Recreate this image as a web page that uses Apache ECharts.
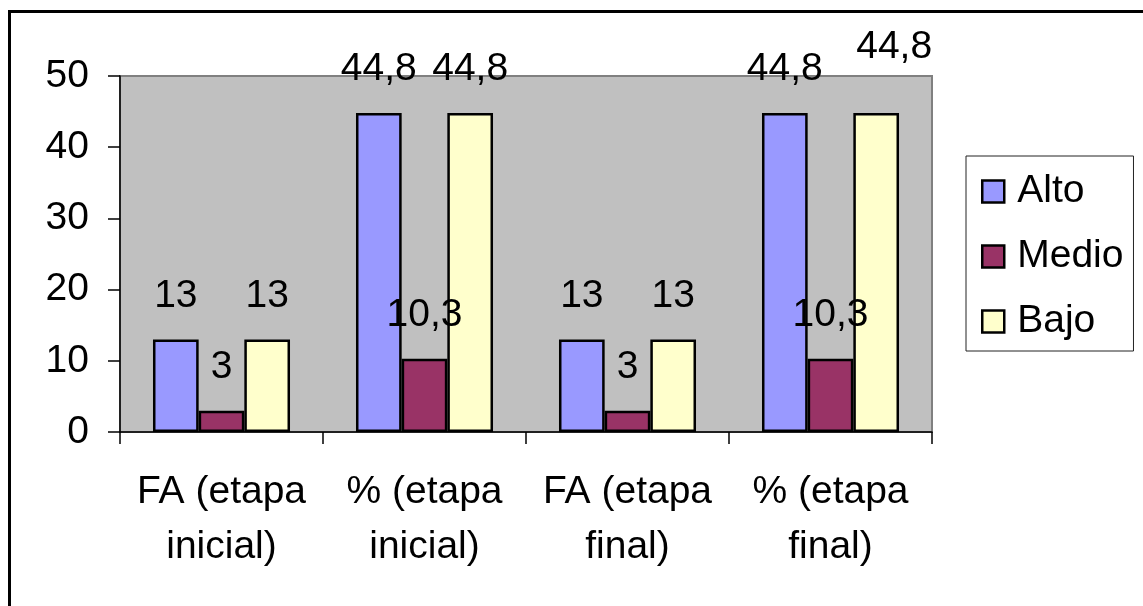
<!DOCTYPE html>
<html>
<head>
<meta charset="utf-8">
<script src="https://cdn.jsdelivr.net/npm/echarts@6/dist/echarts.min.js"></script>
<style>
  html, body { margin: 0; padding: 0; background: #fff; }
  #chart { width: 1143px; height: 606px; }
</style>
</head>
<body>
<div id="chart"></div>
<script>
// Category labels (two lines each) and the three series
const categories = ['FA (etapa\ninicial)', '% (etapa\ninicial)', 'FA (etapa\nfinal)', '% (etapa\nfinal)'];
const seriesNames = ['Alto', 'Medio', 'Bajo'];
const alto = [13, 44.8, 13, 44.8];
const medio = [3, 10.3, 3, 10.3];
const bajo = [13, 44.8, 13, 44.8];
const yTicks = { min: 0, max: 50, interval: 10 };

const FONT = '"Liberation Sans", Arial, sans-serif';
const FS = 39;

const colors = { Alto: '#9999FF', Medio: '#993366', Bajo: '#FFFFCC' };

function decimalComma(v) {
  return String(v).replace('.', ',');
}

function makeSeries(name, values, extraLabel) {
  return {
    name: name,
    type: 'bar',
    barGap: '0%',
    barCategoryGap: '32.5%',
    itemStyle: { color: colors[name], borderColor: '#000', borderWidth: 2.5 },
    label: {
      show: true,
      position: 'top',
      distance: 24,
      color: '#000',
      fontFamily: FONT,
      fontSize: FS,
      formatter: p => decimalComma(p.value)
    },
    data: values.map((v, i) => {
      const item = { value: v };
      if (extraLabel && extraLabel[i]) item.label = extraLabel[i];
      return item;
    })
  };
}

const chart = echarts.init(document.getElementById('chart'), null, { renderer: 'canvas' });

chart.setOption({
  backgroundColor: '#fff',
  animation: false,
  graphic: [{
    type: 'rect',
    shape: { x: 9.5, y: 11.5, width: 1300, height: 800 },
    style: { fill: 'none', stroke: '#000', lineWidth: 3 },
    silent: true,
    z: 100
  }],
  grid: {
    left: 120, top: 76, right: 211, bottom: 174,
    show: true,
    backgroundColor: '#C0C0C0',
    borderColor: '#808080',
    borderWidth: 2
  },
  legend: {
    orient: 'vertical',
    left: 966,
    top: 156,
    padding: [16, 10, 10, 15],
    itemGap: 26,
    itemWidth: 22,
    itemHeight: 22,
    backgroundColor: '#fff',
    borderColor: '#222',
    borderWidth: 1,
    icon: 'rect',
    itemStyle: { borderColor: '#000', borderWidth: 2.5 },
    textStyle: { fontFamily: FONT, fontSize: FS, color: '#000', padding: [0, 0, 0, 8] },
    data: seriesNames
  },
  xAxis: {
    type: 'category',
    data: categories,
    axisLine: { show: true, lineStyle: { color: '#000', width: 1.5 } },
    axisTick: { show: true, length: 12, lineStyle: { color: '#000', width: 1.5 } },
    axisLabel: {
      margin: 33,
      color: '#000',
      fontFamily: FONT,
      fontSize: FS,
      lineHeight: 55,
      interval: 0
    },
    splitLine: { show: false }
  },
  yAxis: {
    type: 'value',
    min: yTicks.min,
    max: yTicks.max,
    interval: yTicks.interval,
    axisLine: { show: true, lineStyle: { color: '#000', width: 1.5 } },
    axisTick: { show: true, length: 12, lineStyle: { color: '#000', width: 1.5 } },
    axisLabel: { margin: 31, color: '#000', fontFamily: FONT, fontSize: FS },
    splitLine: { show: false }
  },
  series: [
    makeSeries('Alto', alto),
    makeSeries('Medio', medio),
    makeSeries('Bajo', bajo, { 3: { offset: [18, -22] } })
  ]
});
</script>
</body>
</html>
